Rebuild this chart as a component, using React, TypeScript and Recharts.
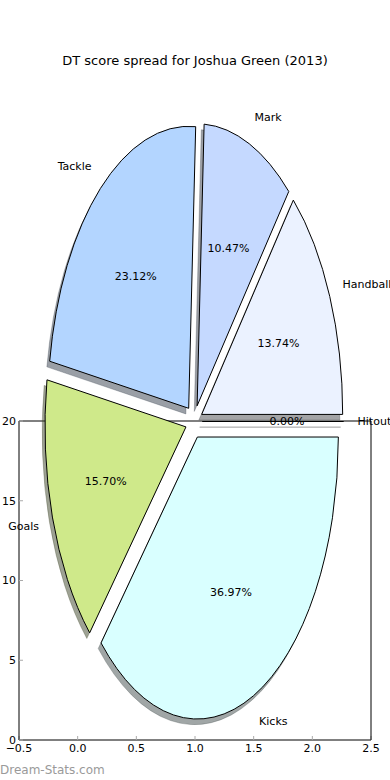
import { PieChart, Pie, ScatterChart, Scatter, XAxis, YAxis } from "recharts";

// DT score breakdown, percent of total
const categories = ["Handball", "Mark", "Tackle", "Goals", "Kicks", "Hitout"];
const shares = [13.74, 10.47, 23.12, 15.7, 36.97, 0];
const sliceColors = ["#ebf2ff", "#c5d9ff", "#b3d5ff", "#cfe98a", "#d9ffff", "#ffffff"];
const explode = [0.06, 0.06, 0.06, 0.06, 0.06, 0.06];

// the stray axes behind the pie
const xTicks = [-0.5, 0, 0.5, 1, 1.5, 2, 2.5];
const yTicks = [0, 5, 10, 15, 20];

const pieData = categories.map((name, i) => ({ name, value: shares[i] }));

const W = 390;
const H = 780;
const FONT = "DejaVu Sans, sans-serif";
const ASPECT = 2; // pie is stretched vertically (non-equal axes)
const RAD = Math.PI / 180;

const fmtX = (v: number) => v.toFixed(1).replace("-", "\u2212");

function darken(hex: string, k: number) {
  const n = parseInt(hex.slice(1), 16);
  const r = Math.round(((n >> 16) & 255) * k);
  const g = Math.round(((n >> 8) & 255) * k);
  const b = Math.round((n & 255) * k);
  return `rgb(${r},${g},${b})`;
}

// draws each slice as an elliptic wedge (with shadow) from the angles recharts computed
function renderSlice(props: any) {
  const { cx, cy, outerRadius, startAngle, endAngle, midAngle, percent, index, name } = props;
  const rx = outerRadius;
  const ry = outerRadius * ASPECT;
  const m = midAngle * RAD;
  const ex = cx + explode[index] * rx * Math.cos(m);
  const ey = cy - explode[index] * ry * Math.sin(m);

  const wedge = (ox: number, oy: number) => {
    const x0 = ex + ox;
    const y0 = ey + oy;
    const x1 = x0 + rx * Math.cos(startAngle * RAD);
    const y1 = y0 - ry * Math.sin(startAngle * RAD);
    const x2 = x0 + rx * Math.cos(endAngle * RAD);
    const y2 = y0 - ry * Math.sin(endAngle * RAD);
    const large = Math.abs(endAngle - startAngle) > 180 ? 1 : 0;
    return `M${x0},${y0}L${x1},${y1}A${rx},${ry} 0 ${large} 0 ${x2},${y2}Z`;
  };

  const lx = ex + 1.1 * rx * Math.cos(m);
  const ly = ey - 1.1 * ry * Math.sin(m);
  const px = ex + 0.6 * rx * Math.cos(m);
  const py = ey - 0.6 * ry * Math.sin(m);
  const shadow = darken(sliceColors[index], 0.3);

  return (
    <g key={`slice-${index}`}>
      <path d={wedge(-0.02 * rx, 0.02 * ry)} fill={shadow} stroke={shadow} fillOpacity={0.5} strokeOpacity={0.3} />
      <path d={wedge(0, 0)} fill={sliceColors[index]} stroke="#000" strokeWidth={1} />
      <text x={px} y={py} textAnchor="middle" dominantBaseline="central" fontSize={11} fontFamily={FONT} fill="#000">
        {`${(percent * 100).toFixed(2)}%`}
      </text>
      <text
        x={lx}
        y={ly}
        textAnchor={Math.cos(m) > 0 ? "start" : "end"}
        dominantBaseline="central"
        fontSize={11}
        fontFamily={FONT}
        fill="#000"
      >
        {name}
      </text>
    </g>
  );
}

export default function App() {
  const tickStyle = { fill: "#000", fontSize: 11, fontFamily: FONT };
  return (
    <div style={{ position: "absolute", left: 0, top: 0, width: W, height: H, background: "#fff", fontFamily: FONT }}>
      <div
        style={{
          position: "absolute",
          left: 0,
          top: 53,
          width: W,
          textAlign: "center",
          fontSize: 13,
          lineHeight: "16px",
          color: "#000",
        }}
      >
        DT score spread for Joshua Green (2013)
      </div>

      {/* axes frame */}
      <div style={{ position: "absolute", left: 0, top: 0 }}>
        <ScatterChart width={W} height={H} margin={{ top: 420, right: 0, bottom: 0, left: 0 }}>
          <XAxis
            xAxisId="x"
            type="number"
            dataKey="x"
            domain={[-0.5, 2.5]}
            allowDataOverflow
            ticks={xTicks}
            interval={0}
            height={40}
            tickSize={-4}
            tickMargin={8}
            tickFormatter={fmtX}
            axisLine={{ stroke: "#000" }}
            tickLine={{ stroke: "#aaa" }}
            tick={tickStyle}
          />
          <XAxis
            xAxisId="xt"
            orientation="top"
            type="number"
            dataKey="x"
            domain={[-0.5, 2.5]}
            allowDataOverflow
            ticks={xTicks}
            interval={0}
            height={1}
            tickSize={-4}
            axisLine={{ stroke: "#000" }}
            tickLine={{ stroke: "#aaa" }}
            tick={false}
          />
          <YAxis
            yAxisId="y"
            type="number"
            dataKey="y"
            domain={[0, 20]}
            allowDataOverflow
            ticks={yTicks}
            interval={0}
            width={19}
            tickSize={-4}
            tickMargin={7}
            axisLine={{ stroke: "#000" }}
            tickLine={{ stroke: "#aaa" }}
            tick={tickStyle}
          />
          <YAxis
            yAxisId="yr"
            orientation="right"
            type="number"
            dataKey="y"
            domain={[0, 20]}
            allowDataOverflow
            ticks={yTicks}
            interval={0}
            width={19}
            tickSize={-4}
            axisLine={{ stroke: "#000" }}
            tickLine={{ stroke: "#aaa" }}
            tick={false}
          />
          <Scatter data={[]} xAxisId="x" yAxisId="y" isAnimationActive={false} />
          <Scatter data={[]} xAxisId="xt" yAxisId="yr" isAnimationActive={false} />
        </ScatterChart>
      </div>

      {/* the pie, drawn over the frame */}
      <div style={{ position: "absolute", left: 0, top: 0 }}>
        <PieChart width={W} height={H} margin={{ top: 0, right: 0, bottom: 0, left: 0 }}>
          <Pie
            data={pieData}
            dataKey="value"
            nameKey="name"
            cx={194}
            cy={421.5}
            outerRadius={141}
            startAngle={0}
            endAngle={360}
            fill="transparent"
            stroke="none"
            label={renderSlice}
            labelLine={false}
            isAnimationActive={false}
          />
        </PieChart>
      </div>

      <div
        style={{
          position: "absolute",
          left: 0,
          top: 763,
          fontSize: 12,
          lineHeight: "14px",
          color: "#9a9a9a",
          whiteSpace: "nowrap",
        }}
      >
        Dream-Stats.com
      </div>
    </div>
  );
}
